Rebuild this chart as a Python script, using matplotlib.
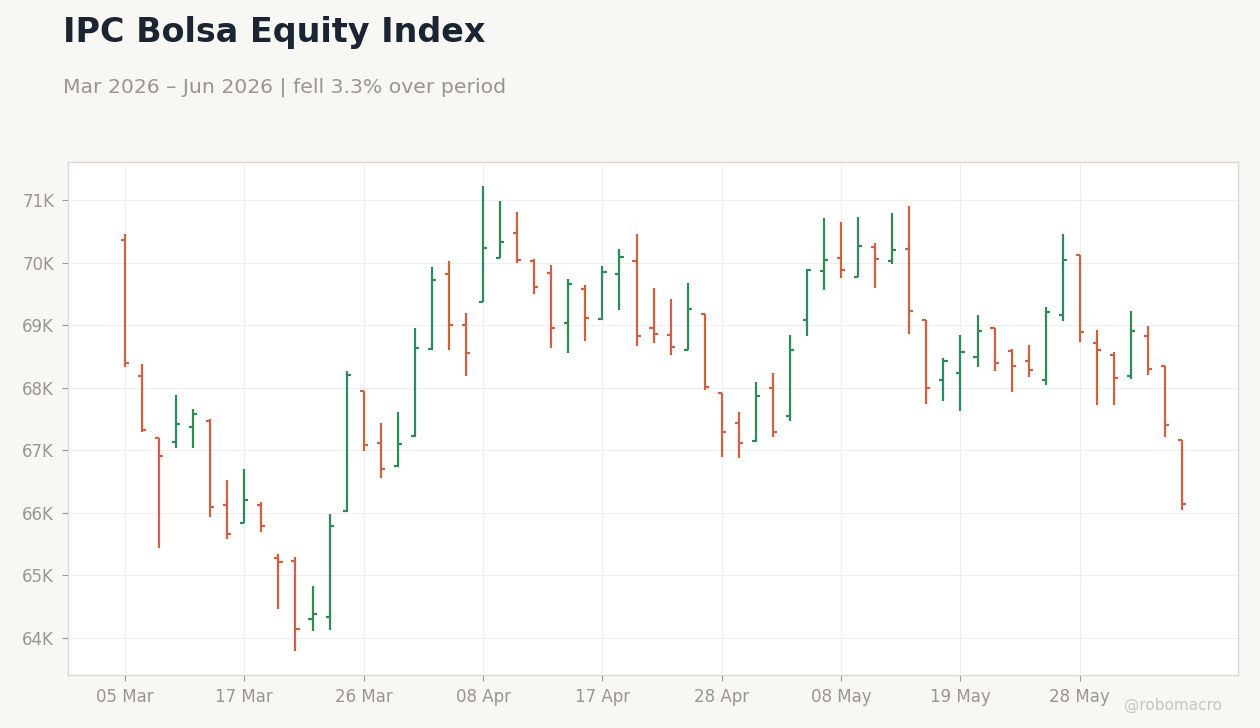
import matplotlib
matplotlib.use("Agg")
import matplotlib.pyplot as plt
from matplotlib.ticker import FuncFormatter
from datetime import datetime

# trading days (BMV calendar, holidays skipped)
dates = [
    "2026-03-05", "2026-03-06", "2026-03-09", "2026-03-10", "2026-03-11", "2026-03-12", "2026-03-13",
    "2026-03-17", "2026-03-18", "2026-03-19", "2026-03-20", "2026-03-23", "2026-03-24", "2026-03-25",
    "2026-03-26", "2026-03-27", "2026-03-30", "2026-03-31", "2026-04-01", "2026-04-06", "2026-04-07",
    "2026-04-08", "2026-04-09", "2026-04-10", "2026-04-13", "2026-04-14", "2026-04-15", "2026-04-16",
    "2026-04-17", "2026-04-20", "2026-04-21", "2026-04-22", "2026-04-23", "2026-04-24", "2026-04-27",
    "2026-04-28", "2026-04-29", "2026-04-30", "2026-05-04", "2026-05-05", "2026-05-06", "2026-05-07",
    "2026-05-08", "2026-05-11", "2026-05-12", "2026-05-13", "2026-05-14", "2026-05-15", "2026-05-18",
    "2026-05-19", "2026-05-20", "2026-05-21", "2026-05-22", "2026-05-25", "2026-05-26", "2026-05-27",
    "2026-05-28", "2026-05-29", "2026-06-01", "2026-06-02", "2026-06-03", "2026-06-04", "2026-06-05",
]

opens = [70367, 68180, 67196, 67127, 67366, 67462, 66122, 65840, 66122, 65281,
         65228, 64302, 64334, 66026, 67946, 67116, 66744, 67223, 68611, 69824,
         69000, 69377, 70080, 70468, 70021, 69830, 69026, 69574, 69090, 69814,
         70021, 68952, 68840, 68601, 69175, 67914, 67436, 67148, 67994, 67547,
         69079, 69862, 70069, 69776, 70245, 70021, 70213, 69079, 68122, 68234,
         68489, 68952, 68579, 68420, 68122, 69159, 70117, 68712, 68521, 68186,
         68829, 68340, 67159]
highs = [70463, 68372, 67200, 67877, 67654, 67494, 66521, 66696, 66169, 65340,
         65302, 64829, 65989, 68271, 67950, 67430, 67606, 68962, 69936, 70032,
         69186, 71229, 70989, 70814, 70064, 69968, 69744, 69649, 69952, 70223,
         70463, 69601, 69425, 69681, 69185, 67920, 67606, 68085, 68228, 68835,
         69904, 70718, 70654, 70734, 70319, 70798, 70910, 69085, 68468, 68835,
         69154, 68962, 68611, 68675, 69282, 70463, 70120, 68915, 68563, 69218,
         68978, 68345, 67165]
lows = [68329, 67292, 65441, 67037, 67037, 65935, 65584, 65835, 65696, 64467,
        63797, 64116, 64132, 66020, 66989, 66558, 66740, 67215, 68605, 68601,
        68186, 69370, 70075, 69989, 69494, 68633, 68553, 68744, 69085, 69239,
        68665, 68712, 68521, 68595, 67962, 66893, 66877, 67140, 67212, 67468,
        68824, 69558, 69750, 69765, 69590, 69973, 68856, 67739, 67787, 67627,
        68329, 68266, 67930, 68170, 68042, 69064, 68728, 67723, 67723, 68138,
        68202, 67212, 66047]
closes = [68393, 67324, 66909, 67414, 67574, 66090, 65659, 66201, 65786, 65217,
          64143, 64382, 65786, 68196, 67079, 66696, 67095, 68633, 69718, 69000,
          68553, 70239, 70324, 70037, 69606, 68952, 69654, 69111, 69846, 70096,
          68824, 68856, 68649, 69255, 68010, 67292, 67116, 67867, 67292, 68601,
          69877, 70037, 69877, 70261, 70053, 70197, 69223, 67989, 68425, 68569,
          68904, 68393, 68345, 68276, 69207, 70037, 68888, 68601, 68154, 68904,
          68297, 67404, 66143]

up_color = "#2e8b57"
down_color = "#cc6144"
bg = "#f8f7f4"
muted = "#9a9590"

fig = plt.figure(figsize=(12.6, 7.28), dpi=100, facecolor=bg)
ax = fig.add_axes([0.054, 0.0728, 0.9286, 0.7047])
ax.set_facecolor("white")

x = list(range(len(dates)))
colors = [up_color if c >= o else down_color for o, c in zip(opens, closes)]
tick_w = 0.24

ax.vlines(x, lows, highs, colors=colors, linewidth=1.6, zorder=3)
ax.hlines(opens, [i - tick_w for i in x], x, colors=colors, linewidth=1.6, zorder=3)
ax.hlines(closes, x, [i + tick_w for i in x], colors=colors, linewidth=1.6, zorder=3)

ax.set_xlim(-3.34, 65.28)
ax.set_ylim(63409, 71607)

tick_idx = list(range(0, len(dates), 7))
ax.set_xticks(tick_idx)
ax.set_xticklabels([datetime.strptime(dates[i], "%Y-%m-%d").strftime("%d %b") for i in tick_idx])
ax.set_yticks(range(64000, 71001, 1000))
ax.yaxis.set_major_formatter(FuncFormatter(lambda v, _: f"{v / 1000:.0f}K"))

ax.grid(True, color="#efefef", linewidth=0.8, zorder=0)
ax.set_axisbelow(True)
for s in ax.spines.values():
    s.set_color("#dcd7d0")
    s.set_linewidth(1.0)
ax.tick_params(colors=muted, labelsize=12, length=4, width=0.8, pad=6)
ax.tick_params(axis="x", pad=5)

fig.text(0.05, 0.942, "IPC Bolsa Equity Index", fontsize=24, fontweight="bold",
         color="#1b2433", va="baseline", ha="left")
fig.text(0.05, 0.873, "Mar 2026 \u2013 Jun 2026 | fell 3.3% over period", fontsize=14.7,
         color=muted, va="baseline", ha="left")
fig.text(0.97, 0.025, "@robomacro", fontsize=11, color="#c8c4bf", ha="right", va="baseline")

fig.savefig("out.png", dpi=100, facecolor=bg)
